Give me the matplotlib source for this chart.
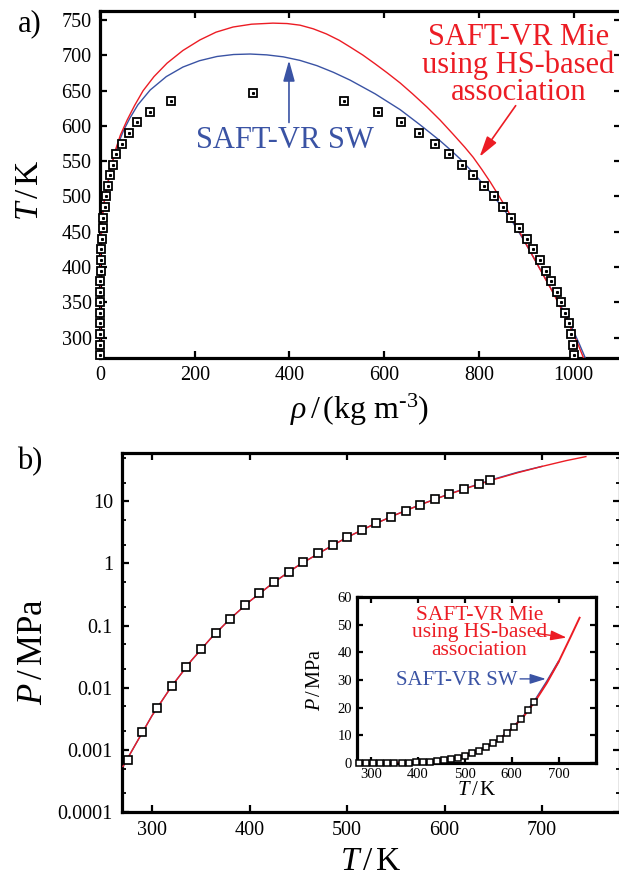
import matplotlib
matplotlib.use('Agg')

import matplotlib.pyplot as plt
from matplotlib.ticker import FixedLocator, LogLocator, NullFormatter

plt.rcParams['font.family'] = ['Liberation Serif', 'DejaVu Serif']
plt.rcParams['mathtext.fontset'] = 'custom'
plt.rcParams['mathtext.rm'] = 'Liberation Serif'
plt.rcParams['mathtext.it'] = 'Liberation Serif:italic'

RED = '#ec1c24'
BLUE = '#3a53a4'

# experimental saturation data
T_exp = [275, 290, 305, 320, 335, 350, 365, 380, 395, 410, 425, 440, 455,
         470, 485, 500, 515, 530, 545, 560, 575, 590, 605, 620, 635]
rho_liq_exp = [999.9, 998.8, 995.0, 989.4, 982.3, 973.7, 963.9, 953.0, 941.0,
               928.1, 915.2, 900.9, 884.9, 867.7, 850.5, 831.3, 810.8, 788.4,
               764.6, 737.8, 708.2, 674.2, 635.0, 588.0, 516.0]
rho_vap_exp = [0.0055, 0.0144, 0.0337, 0.0714, 0.140, 0.260, 0.455, 0.754,
               1.20, 1.83, 2.71, 3.87, 5.39, 7.33, 9.78, 12.8, 16.6, 21.3,
               27.1, 34.2, 46.0, 61.0, 79.0, 106.0, 150.0]
P_exp = [0.000698, 0.00192, 0.00472, 0.01055, 0.0217, 0.0417, 0.0757, 0.129,
         0.211, 0.332, 0.500, 0.733, 1.046, 1.455, 1.980, 2.639, 3.457, 4.46,
         5.665, 7.11, 8.81, 10.82, 13.17, 15.9, 19.1]
T_crit = [647.1]
rho_crit = [322.0]
P_crit = [22.06]

# SAFT-VR Mie (HS-based association) coexistence
mie_rho = [0, 0.2, 1, 3, 6, 10, 14.8, 22, 31.7, 43, 57, 73, 91, 114, 141.5,
           175, 211, 245, 281, 320, 365, 395, 422.4, 450, 478, 505, 528, 555,
           581, 607, 634, 660, 690, 718, 745, 770, 788, 806, 824, 842, 860,
           874, 887, 901, 914.5, 935, 957, 975, 993, 1007, 1021]
mie_T = [271, 380, 425, 455, 478, 497, 513, 537, 564, 587, 608, 629, 650,
         670, 689, 707, 722, 733, 740.3, 744.3, 745.8, 745.2, 742.9, 737.8,
         730.5, 721.5, 712, 700.5, 688, 675, 660.8, 645.5, 627, 608.4, 588.7,
         570, 555.5, 538.5, 520.5, 501, 481, 464.5, 448.5, 431, 414.5, 389.5,
         363, 339.5, 315, 294, 271]

# SAFT-VR SW coexistence
sw_rho = [0, 0.2, 1, 3, 6, 10, 14.8, 22, 31, 38, 50, 63, 80, 106, 140, 175,
          210, 247, 282, 317, 352, 387, 422, 458, 493, 528, 581, 634, 676, 718,
          740, 760, 788, 812, 838, 866, 893, 915, 936, 955, 971, 985, 997,
          1011, 1024]
sw_T = [271, 380, 425, 455, 478, 497, 513, 537, 561, 574, 594, 611, 630, 651,
        670, 683.5, 692.5, 698.5, 701.3, 702, 700.8, 698, 693, 685.5, 676, 665,
        645.5, 623, 601.5, 579, 566, 553.5, 533.5, 515.5, 494.5, 469.5, 440,
        414, 389, 366, 347, 330, 313, 292.5, 272]

# vapour pressure curves
mie_Tp = [270, 285, 300, 320, 340, 360, 380, 400, 425, 450, 475, 500, 525,
          550, 575, 600, 625, 650, 675, 700, 725, 745]
mie_P = [0.00054, 0.0014, 0.0036, 0.0106, 0.0272, 0.0622, 0.129, 0.246, 0.50,
         0.93, 1.59, 2.64, 4.10, 6.10, 8.80, 12.3, 16.7, 22.3, 28.9, 36.5,
         45.3, 52.5]
sw_Tp = [270, 285, 300, 320, 340, 360, 380, 400, 425, 450, 475, 500, 525,
         550, 575, 600, 625, 650, 675, 700]
sw_P = [0.00054, 0.0014, 0.0036, 0.0106, 0.0272, 0.0622, 0.129, 0.246, 0.50,
        0.93, 1.59, 2.64, 4.10, 6.12, 8.85, 12.4, 16.9, 22.7, 29.4, 36.6]

W, H = 619, 880


def box(x0, y0, x1, y1):
    # pixel box -> figure coords
    return [x0 / W, 1 - y1 / H, (x1 - x0) / W, (y1 - y0) / H]


def fpos(x, y):
    return x / W, 1 - y / H


def style(ax, size, pad, major=5, lw=2.3):
    for s in ax.spines.values():
        s.set_linewidth(lw)
    ax.tick_params(which='both', direction='in', top=True, right=True,
                   labelsize=size, pad=pad)
    ax.tick_params(which='major', length=major, width=1.6)
    ax.tick_params(which='minor', length=major * 0.55, width=1.3)


fig = plt.figure(figsize=(W / 100, H / 100), dpi=100, facecolor='white')

# ---------------- a) coexistence -----------------
ax1 = fig.add_axes(box(100, 11, 621, 358))
sq = dict(marker='s', ms=5.3, mfc='white', mec='black', mew=1.3, ls='none',
          clip_on=False, zorder=5)
dot = dict(marker='s', ms=1.2, color='black', ls='none', clip_on=False, zorder=6)
for xs, ts in ((rho_vap_exp, T_exp), (rho_liq_exp, T_exp), (rho_crit, T_crit)):
    ax1.plot(xs, ts, **sq)
    ax1.plot(xs, ts, **dot)
ax1.plot(sw_rho, sw_T, color=BLUE, lw=1.0, zorder=3)
ax1.plot(mie_rho, mie_T, color=RED, lw=1.0, zorder=4)
ax1.set_xlim(0, 1100)
ax1.set_ylim(271, 763)
ax1.xaxis.set_major_locator(FixedLocator([0, 200, 400, 600, 800, 1000]))
ax1.yaxis.set_major_locator(FixedLocator(range(300, 751, 50)))
style(ax1, 14.5, 6)

ax1.annotate('', xy=(399, 697), xytext=(399, 601),
             arrowprops=dict(arrowstyle='-|>,head_length=0.9,head_width=0.25',
                             color=BLUE, lw=1.2, mutation_scale=14))
ax1.text(391, 580, 'SAFT-VR SW', color=BLUE, fontsize=22, ha='center', va='center')
ax1.annotate('', xy=(798, 553), xytext=(881, 632),
             arrowprops=dict(arrowstyle='-|>,head_length=0.9,head_width=0.25',
                             color=RED, lw=1.2, mutation_scale=14))
ax1.text(883, 686, 'SAFT-VR Mie\nusing HS-based\nassociation', color=RED,
         fontsize=22, ha='center', va='center', linespacing=0.92)

fig.text(*fpos(30, 24), 'a)', fontsize=22, ha='center', va='center')
fig.text(*fpos(30, 190), r'$T\,$/$\,$K', fontsize=24, ha='center', va='center',
         rotation=90)
fig.text(*fpos(360, 410), r'$\rho\,$/$\,$(kg m$^{\text{-}3}$)', fontsize=23,
         ha='center', va='center')

# ---------------- b) vapour pressure -----------------
ax2 = fig.add_axes(box(122, 453, 620, 812))
ax2.set_yscale('log')
ax2.plot(T_exp, P_exp, marker='s', ms=5.3, mfc='white', mec='black', mew=1.2,
         ls='none', zorder=5)
ax2.plot(T_crit, P_crit, marker='s', ms=5.3, mfc='white', mec='black', mew=1.2,
         ls='none', zorder=5)
ax2.plot(sw_Tp, sw_P, color=BLUE, lw=1.0, zorder=3)
ax2.plot(mie_Tp, mie_P, color=RED, lw=1.0, zorder=4)
ax2.set_xlim(269, 780)
ax2.set_ylim(1e-4, 60)
ax2.xaxis.set_major_locator(FixedLocator([300, 400, 500, 600, 700]))
ax2.yaxis.set_major_locator(FixedLocator([1e-4, 1e-3, 1e-2, 1e-1, 1, 10]))
ax2.set_yticklabels(['0.0001', '0.001', '0.01', '0.1', '1', '10'])
ax2.yaxis.set_minor_locator(LogLocator(base=10, subs=(2, 5)))
ax2.yaxis.set_minor_formatter(NullFormatter())
style(ax2, 14.5, 6.5)

fig.text(*fpos(30, 462), 'b)', fontsize=22, ha='center', va='center')
fig.text(*fpos(33, 652), r'$P\,$/$\,$MPa', fontsize=25, ha='center',
         va='center', rotation=90)
fig.text(*fpos(371, 862), r'$T\,$/$\,$K', fontsize=24, ha='center', va='center')

# ---------------- inset -----------------
ax3 = fig.add_axes(box(357, 597, 596, 763))
ax3.plot(T_exp, P_exp, marker='s', ms=4.6, mfc='white', mec='black', mew=1.1,
         ls='none', zorder=5, clip_on=False)
ax3.plot(T_crit, P_crit, marker='s', ms=4.6, mfc='white', mec='black', mew=1.1,
         ls='none', zorder=5)
ax3.plot(sw_Tp, sw_P, color=BLUE, lw=1.4, zorder=3)
ax3.plot(mie_Tp, mie_P, color=RED, lw=1.4, zorder=4)
ax3.set_xlim(270, 780)
ax3.set_ylim(0, 60)
ax3.xaxis.set_major_locator(FixedLocator([300, 400, 500, 600, 700]))
ax3.yaxis.set_major_locator(FixedLocator(range(0, 61, 10)))
style(ax3, 10.5, 3.5, major=4)

ax3.text(531, 47, 'SAFT-VR Mie\nusing HS-based\nassociation', color=RED,
         fontsize=15.5, ha='center', va='center', linespacing=0.92)
ax3.annotate('', xy=(723, 45.2), xytext=(646, 47),
             arrowprops=dict(arrowstyle='-|>,head_length=0.8,head_width=0.25',
                             color=RED, lw=1.0, mutation_scale=12))
ax3.text(482, 30, 'SAFT-VR SW', color=BLUE, fontsize=15, ha='center', va='center')
ax3.annotate('', xy=(679, 30.4), xytext=(612, 30.4),
             arrowprops=dict(arrowstyle='-|>,head_length=0.8,head_width=0.25',
                             color=BLUE, lw=1.0, mutation_scale=12))
fig.text(*fpos(316, 680), r'$P\,$/$\,$MPa', fontsize=14.5, ha='center',
         va='center', rotation=90)
fig.text(*fpos(477, 790), r'$T\,$/$\,$K', fontsize=15, ha='center', va='center')

fig.savefig('out.png', dpi=100, facecolor='white')
